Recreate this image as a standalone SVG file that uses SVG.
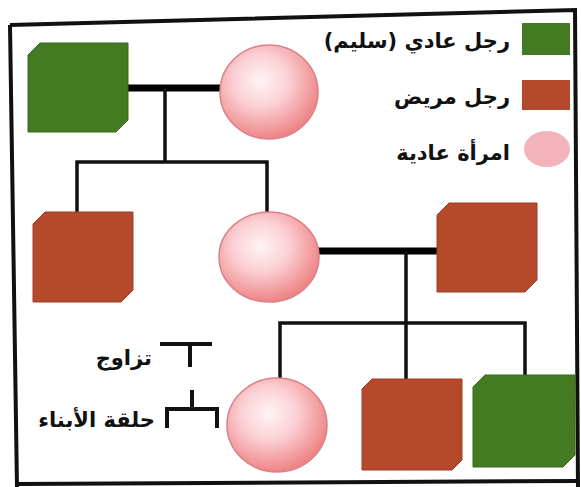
<svg xmlns="http://www.w3.org/2000/svg" width="581" height="487" viewBox="0 0 581 487">
<defs>
<radialGradient id="pink" cx="0.42" cy="0.38" r="0.62">
<stop offset="0" stop-color="#fff4f5"/>
<stop offset="0.45" stop-color="#fbd0d4"/>
<stop offset="1" stop-color="#ee8486"/>
</radialGradient>
<style>
.frame{fill:none;stroke:#111;stroke-width:4}
.couple{stroke:#000;stroke-width:7;fill:none;stroke-linecap:round}
.line{stroke:#111;stroke-width:3.5;fill:none}
.green{fill:#437a22;stroke:#3a6a1c;stroke-width:1}
.brown{fill:#b5492c;stroke:#9c3e25;stroke-width:1}
.female{fill:url(#pink);stroke:#d98288;stroke-width:1.5}
.lbl{font-family:"DejaVu Sans",sans-serif;font-weight:bold;font-size:21px;fill:#111}
.sym{stroke:#111;stroke-width:4;fill:none}
</style>
</defs>
<rect width="581" height="487" fill="#fff"/>
<path class="frame" d="M10,25 L575,10 L578,487 M10,25 L17,487"/>
<path class="frame" d="M17,484 L578,481"/>
<g id="connectors">
<path class="couple" d="M112,88 H222"/>
<path class="line" d="M165,88 V162 M77,212 V162 H267 V215"/>
<path class="couple" d="M310,251 H436"/>
<path class="line" d="M406,251 V382 M280,382 V323 H525 V380"/>
</g>
<g id="grandfather"><polygon class="green" points="40,43 128,43 128,120 116,132 28,132 28,55"/></g>
<g id="grandmother"><ellipse class="female" cx="269" cy="92" rx="49" ry="47"/></g>
<g id="uncle"><polygon class="brown" points="45,212 133,212 133,290 121,302 33,302 33,224"/></g>
<g id="mother"><ellipse class="female" cx="269" cy="257" rx="50" ry="45"/></g>
<g id="father"><polygon class="brown" points="449,203 537,203 537,280 525,292 437,292 437,215"/></g>
<g id="daughter"><ellipse class="female" cx="277" cy="425" rx="50" ry="47"/></g>
<g id="son-ill"><polygon class="brown" points="372,379 462,379 462,460 452,470 362,470 362,389"/></g>
<g id="son-healthy"><polygon class="green" points="485,375 575,375 575,455 563,467 473,467 473,387"/></g>
<g id="legend">
<rect x="522" y="23" width="48" height="32" fill="#437a22"/>
<rect x="522" y="80" width="48" height="30" fill="#b5492c"/>
<ellipse cx="547" cy="149" rx="23" ry="18" fill="#f2b3ba"/>
<text class="lbl" x="510" y="48" direction="rtl" text-anchor="start">رجل عادي (سليم)</text>
<text class="lbl" x="510" y="104" direction="rtl" text-anchor="start">رجل مريض</text>
<text class="lbl" x="510" y="160" direction="rtl" text-anchor="start">امرأة عادية</text>
<path class="sym" d="M160,344 H212 M190,344 V367"/>
<text class="lbl" x="152" y="365" direction="rtl" text-anchor="start">تزاوج</text>
<path class="sym" d="M167,428 V409 H217 V428 M192,409 V390"/>
<text class="lbl" x="155" y="427" direction="rtl" text-anchor="start">حلقة الأبناء</text>
</g>
</svg>
